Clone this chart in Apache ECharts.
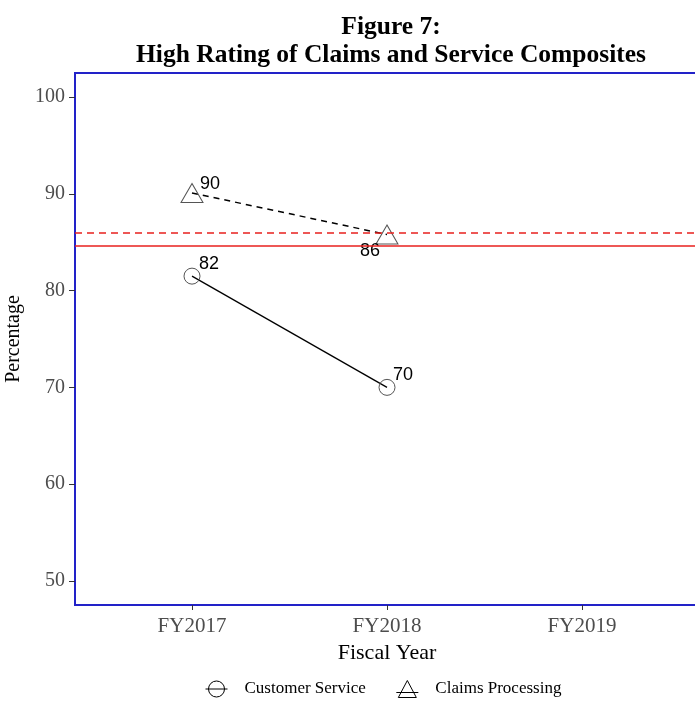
<!DOCTYPE html>
<html><head><meta charset="utf-8">
<script src="https://cdn.jsdelivr.net/npm/echarts@6/dist/echarts.min.js"></script>
<style>html,body{margin:0;padding:0;background:#fff}#c{width:695px;height:704px}</style>
</head><body><div id="c"></div>
<script>
const categories = ['FY2017', 'FY2018', 'FY2019'];
const customerService = [81.5, 70.0];
const claimsProcessing = [90.1, 85.8];
const refClaims = 86.0;
const refService = 84.6;
const yTicks = [50, 60, 70, 80, 90, 100];

const serif = '"Liberation Serif", "DejaVu Serif", serif';
const sans = '"Liberation Sans", Arial, sans-serif';

const csLabelOffsets = [[17, -12], [16, -12]];
const cpLabelOffsets = [[18, -9], [-17, 16]];

function pts(vals, offs) {
  return vals.map((v, i) => ({
    value: [i, v],
    label: { offset: offs[i] }
  }));
}

const chart = echarts.init(document.getElementById('c'), null, { renderer: 'canvas' });
chart.setOption({
  animation: false,
  backgroundColor: '#fff',
  title: {
    text: 'Figure 7:\nHigh Rating of Claims and Service Composites',
    left: 386, top: 8, textAlign: 'center',
    textStyle: { fontFamily: serif, fontWeight: 'bold', fontSize: 25.5, lineHeight: 28, color: '#000' }
  },
  legend: {
    bottom: 1, left: 200,
    itemWidth: 22, itemHeight: 17, itemGap: 30,
    textStyle: { fontFamily: serif, fontSize: 17, color: '#000', padding: [0, 0, 0, 12] },
    data: [
      { name: 'Customer Service', icon: 'path://M0,10 L22,10 M3,10 A8,8 0 1,1 19,10 A8,8 0 1,1 3,10 Z', itemStyle: { color: 'transparent', borderColor: '#000', borderWidth: 1 } },
      { name: 'Claims Processing', icon: 'path://M0,14 L22,14 M2,19 L11,2 L20,19 Z', itemStyle: { color: 'transparent', borderColor: '#000', borderWidth: 1 } }
    ]
  },
  grid: { left: 75, top: 73, right: -4, bottom: 99, outerBoundsMode: 'none', containLabel: false, show: true, borderColor: '#2222c8', borderWidth: 2, backgroundColor: 'transparent' },
  xAxis: {
    type: 'value', min: -0.6, max: 2.6,
    name: 'Fiscal Year', nameLocation: 'middle', nameGap: 35,
    nameTextStyle: { fontFamily: serif, fontSize: 22, color: '#000' },
    axisLine: { show: false, onZero: false },
    splitLine: { show: false },
    axisTick: { show: true, length: 5, lineStyle: { color: '#333' }, customValues: [0, 1, 2] },
    axisLabel: { fontFamily: serif, fontSize: 21, color: '#4d4d4d', margin: 11, customValues: [0, 1, 2], formatter: v => categories[Math.round(v)] }
  },
  yAxis: {
    type: 'value', min: 47.5, max: 102.5,
    name: 'Percentage', nameLocation: 'middle', nameGap: 45, nameRotate: 90,
    nameTextStyle: { fontFamily: serif, fontSize: 20, color: '#000' },
    axisLine: { show: false, onZero: false },
    splitLine: { show: false },
    axisTick: { show: true, length: 6, lineStyle: { color: '#333' }, customValues: yTicks },
    axisLabel: { fontFamily: serif, fontSize: 20, color: '#4d4d4d', margin: 10, customValues: yTicks }
  },
  series: [
    {
      name: 'Customer Service', type: 'line',
      data: pts(customerService, csLabelOffsets),
      symbol: 'circle', symbolSize: 16,
      itemStyle: { color: 'transparent', borderColor: '#555', borderWidth: 1 },
      lineStyle: { color: '#000', width: 1.3, type: 'solid' },
      label: { show: true, position: 'inside', fontFamily: sans, fontSize: 18, color: '#000', formatter: p => Math.round(p.value[1]) },
      z: 3,
      markLine: {
        silent: true, symbol: 'none', label: { show: false },
        lineStyle: { color: '#e8201e', width: 1.5, type: 'solid' },
        data: [{ yAxis: refService }]
      }
    },
    {
      name: 'Claims Processing', type: 'line',
      data: pts(claimsProcessing, cpLabelOffsets),
      symbol: 'triangle', symbolSize: [22, 19],
      itemStyle: { color: 'transparent', borderColor: '#555', borderWidth: 1 },
      lineStyle: { color: '#000', width: 1.5, type: [6, 5] },
      label: { show: true, position: 'inside', fontFamily: sans, fontSize: 18, color: '#000', formatter: p => Math.round(p.value[1]) },
      z: 3,
      markLine: {
        silent: true, symbol: 'none', label: { show: false },
        lineStyle: { color: '#e8201e', width: 1.5, type: [7, 5] },
        data: [{ yAxis: refClaims }]
      }
    }
  ]
});
</script></body></html>
